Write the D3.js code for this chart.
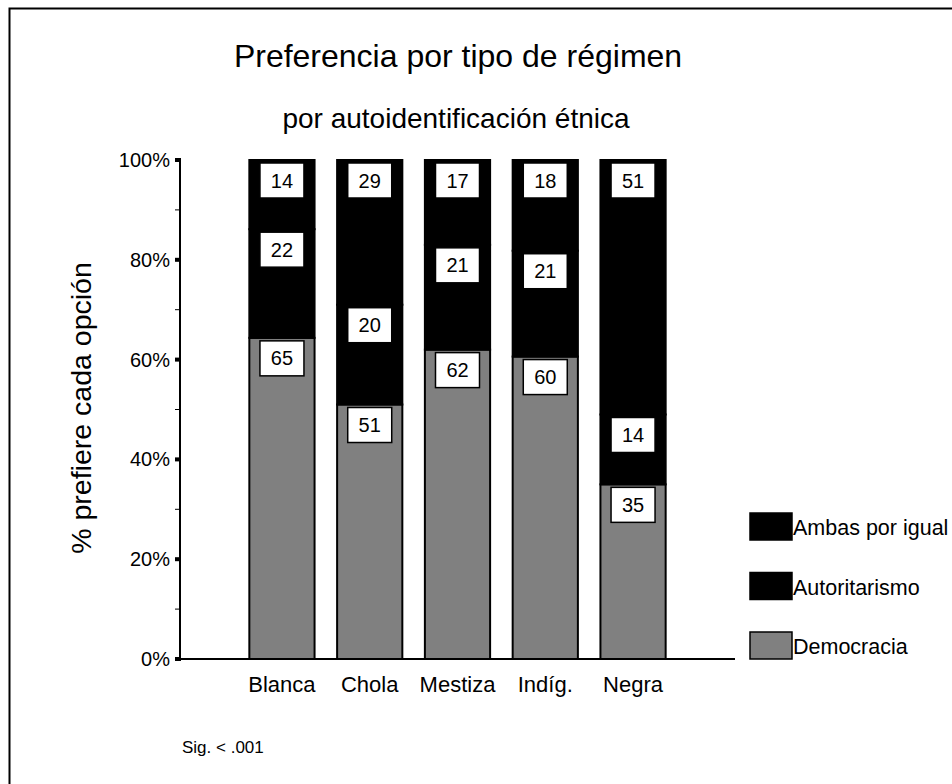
<!DOCTYPE html>
<html>
<head>
<meta charset="utf-8">
<script src="https://cdn.jsdelivr.net/npm/d3@7"></script>
<style>
  html, body { margin: 0; padding: 0; background: #fff; }
  svg { display: block; font-family: "Liberation Sans", Arial, sans-serif; }
</style>
</head>
<body>
<div id="chart"></div>
<script>
const categories = ["Blanca", "Chola", "Mestiza", "Indíg.", "Negra"];
const seriesNames = ["Democracia", "Autoritarismo", "Ambas por igual"];
const democracia = [65, 51, 62, 60, 35];
const autoritarismo = [22, 20, 21, 21, 14];
const ambas = [14, 29, 17, 18, 51];
const yTicks = [0, 0.2, 0.4, 0.6, 0.8, 1];
const yMinorTicks = [0.1, 0.3, 0.5, 0.7, 0.9];

const seriesColors = {
  "Democracia": "#808080",
  "Autoritarismo": "#000000",
  "Ambas por igual": "#000000"
};

const width = 952;
const height = 784;

const rows = categories.map((c, i) => ({
  cat: c,
  "Democracia": democracia[i],
  "Autoritarismo": autoritarismo[i],
  "Ambas por igual": ambas[i]
}));

const stacked = d3.stack()
  .keys(seriesNames)
  .offset(d3.stackOffsetExpand)(rows);

const svg = d3.select("#chart")
  .append("svg")
  .attr("width", width)
  .attr("height", height);

// marco exterior
svg.append("rect")
  .attr("x", 9.5)
  .attr("y", 8.5)
  .attr("width", 1200)
  .attr("height", 1200)
  .attr("fill", "none")
  .attr("stroke", "#000")
  .attr("stroke-width", 2);

const x = d3.scaleBand()
  .domain(categories)
  .range([180, 735])
  .paddingInner(0.257)
  .paddingOuter(0.79);

const y = d3.scaleLinear()
  .domain([0, 1])
  .range([659, 160]);

// titulos
svg.append("text")
  .attr("x", 458)
  .attr("y", 67)
  .attr("text-anchor", "middle")
  .style("font-size", "32px")
  .text("Preferencia por tipo de régimen");

svg.append("text")
  .attr("x", 456)
  .attr("y", 128)
  .attr("text-anchor", "middle")
  .style("font-size", "28px")
  .text("por autoidentificación étnica");

// barras
const layer = svg.append("g")
  .selectAll("g")
  .data(stacked)
  .join("g");

layer.selectAll("rect")
  .data(d => d.map(v => ({ key: d.key, v })))
  .join("rect")
  .attr("x", d => x(d.v.data.cat))
  .attr("width", x.bandwidth())
  .attr("y", d => y(d.v[1]))
  .attr("height", d => y(d.v[0]) - y(d.v[1]))
  .attr("fill", d => seriesColors[d.key])
  .attr("stroke", "#000")
  .attr("stroke-width", 2);

// etiquetas
const boxW = 44, boxH = 35;
layer.selectAll("g.lbl")
  .data(d => d.map(v => ({ key: d.key, v })))
  .join("g")
  .attr("class", "lbl")
  .attr("transform", d => `translate(${x(d.v.data.cat) + x.bandwidth() / 2},${y(d.v[1]) + 3})`)
  .each(function(d) {
    const g = d3.select(this);
    g.append("rect")
      .attr("x", -boxW / 2)
      .attr("y", 0)
      .attr("width", boxW)
      .attr("height", boxH)
      .attr("fill", "#fff")
      .attr("stroke", "#000")
      .attr("stroke-width", 1.5);
    g.append("text")
      .attr("x", 0)
      .attr("y", boxH / 2 + 7)
      .attr("text-anchor", "middle")
      .style("font-size", "20px")
      .text(d.v.data[d.key]);
  });

// eje Y
const yAxis = svg.append("g");
yAxis.append("line")
  .attr("x1", 180).attr("x2", 180)
  .attr("y1", y(1)).attr("y2", y(0))
  .attr("stroke", "#000").attr("stroke-width", 2);

yAxis.selectAll("rect.major")
  .data(yTicks)
  .join("rect")
  .attr("class", "major")
  .attr("x", 175)
  .attr("y", d => y(d) - 2)
  .attr("width", 6)
  .attr("height", 4)
  .attr("fill", "#000");

yAxis.selectAll("line.minor")
  .data(yMinorTicks)
  .join("line")
  .attr("class", "minor")
  .attr("x1", 175).attr("x2", 180)
  .attr("y1", d => y(d)).attr("y2", d => y(d))
  .attr("stroke", "#000").attr("stroke-width", 1);

yAxis.selectAll("text")
  .data(yTicks)
  .join("text")
  .attr("x", 170)
  .attr("y", d => y(d) + 7)
  .attr("text-anchor", "end")
  .style("font-size", "20px")
  .text(d3.format(".0%"));

svg.append("text")
  .attr("transform", "rotate(-90)")
  .attr("x", -408)
  .attr("y", 91)
  .attr("text-anchor", "middle")
  .style("font-size", "28.5px")
  .text("% prefiere cada opción");

// eje X
svg.append("line")
  .attr("x1", 180).attr("x2", 735)
  .attr("y1", y(0)).attr("y2", y(0))
  .attr("stroke", "#000").attr("stroke-width", 2);

svg.append("g")
  .selectAll("text")
  .data(categories)
  .join("text")
  .attr("x", d => x(d) + x.bandwidth() / 2)
  .attr("y", 692)
  .attr("text-anchor", "middle")
  .style("font-size", "22px")
  .text(d => d);

// leyenda
const legendKeys = seriesNames.slice().reverse();
const legend = svg.append("g")
  .attr("transform", "translate(750,513)");

legendKeys.forEach((k, i) => {
  const row = legend.append("g")
    .attr("transform", `translate(0,${i * 59.5})`);
  row.append("rect")
    .attr("x", 0)
    .attr("y", 0)
    .attr("width", 42)
    .attr("height", 27)
    .attr("fill", seriesColors[k])
    .attr("stroke", "#000")
    .attr("stroke-width", 1.5);
  row.append("text")
    .attr("x", 43)
    .attr("y", 22)
    .style("font-size", "21.5px")
    .text(k);
});

svg.append("text")
  .attr("x", 182)
  .attr("y", 753)
  .style("font-size", "17px")
  .text("Sig. < .001");
</script>
</body>
</html>
